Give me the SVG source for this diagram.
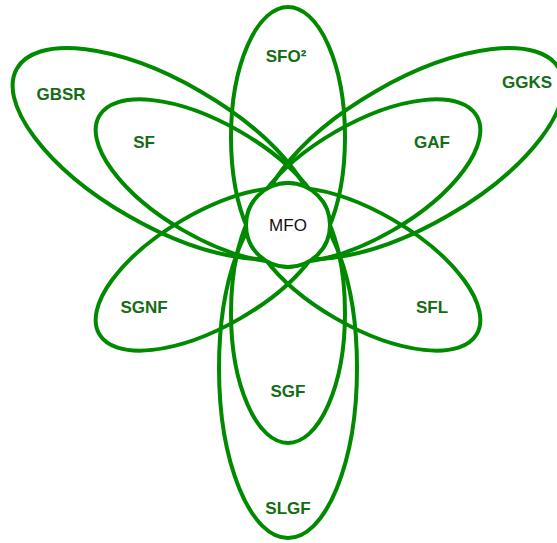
<svg xmlns="http://www.w3.org/2000/svg" width="557" height="543" viewBox="0 0 557 543">
<style>
.p{fill:none;stroke:#008a00;stroke-width:4}
.l{font-family:"Liberation Sans",Arial,sans-serif;font-weight:bold;font-size:17px;fill:#146c14;text-anchor:middle}
.c{fill:#fff;stroke:#008a00;stroke-width:4}
.m{font-family:"Liberation Sans",Arial,sans-serif;font-size:17px;fill:#111;text-anchor:middle}
</style>
<rect width="557" height="543" fill="#fff"/>
<g id="GBSR"><ellipse class="p" cx="288" cy="82" rx="72" ry="170" transform="rotate(300 288 225)"/><text class="l" x="61" y="100">GBSR</text></g>
<g id="GGKS"><ellipse class="p" cx="288" cy="82" rx="72" ry="170" transform="rotate(60 288 225)"/><text class="l" x="527" y="88">GGKS</text></g>
<g id="SLGF"><ellipse class="p" cx="288" cy="82" rx="69" ry="170" transform="rotate(180 288 225)"/><text class="l" x="288" y="514">SLGF</text></g>
<g id="SFO2"><ellipse class="p" cx="288" cy="137" rx="57" ry="130"/><text class="l" x="286" y="62">SFO²</text></g>
<g id="GAF"><ellipse class="p" cx="288" cy="137" rx="57" ry="130" transform="rotate(60 288 225)"/><text class="l" x="432" y="148">GAF</text></g>
<g id="SFL"><ellipse class="p" cx="288" cy="137" rx="57" ry="130" transform="rotate(120 288 225)"/><text class="l" x="432" y="313">SFL</text></g>
<g id="SGF"><ellipse class="p" cx="288" cy="137" rx="57" ry="130" transform="rotate(180 288 225)"/><text class="l" x="288" y="397">SGF</text></g>
<g id="SGNF"><ellipse class="p" cx="288" cy="137" rx="57" ry="130" transform="rotate(240 288 225)"/><text class="l" x="144" y="313">SGNF</text></g>
<g id="SF"><ellipse class="p" cx="288" cy="137" rx="57" ry="130" transform="rotate(300 288 225)"/><text class="l" x="144" y="148">SF</text></g>
<g id="MFO"><circle class="c" cx="288" cy="225" r="42"/><text class="m" x="288" y="231">MFO</text></g>
<g id="connectors"/>
</svg>
